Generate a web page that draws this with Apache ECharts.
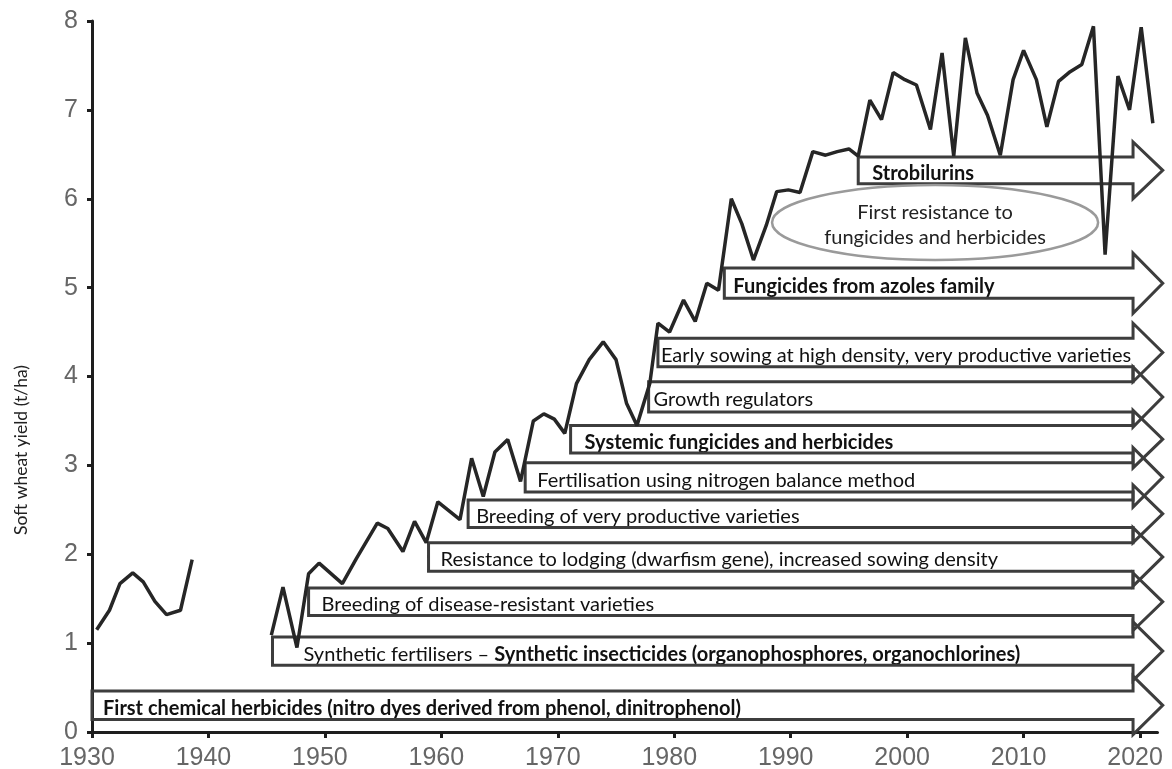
<!DOCTYPE html>
<html><head><meta charset="utf-8">
<script src="https://cdn.jsdelivr.net/npm/echarts@6/dist/echarts.min.js"></script>
<style>html,body{margin:0;padding:0;background:#fff;}#c{width:1172px;height:769px;}</style>
</head><body><div id="c"></div>
<script>
// ---- data ----
const years1930s = [1930.4,1931.5,1932.4,1933.5,1934.4,1935.4,1936.4,1937.6,1938.6];
const yield1930s = [1.15,1.37,1.67,1.79,1.69,1.47,1.32,1.37,1.94];

const yearsPostWar = [1945.4,1946.4,1947.6,1948.6,1949.5,1951.5,1952.7,1954.5,1955.4,1956.7,
  1957.7,1958.7,1959.7,1961.6,1962.6,1963.6,1964.6,1965.7,1966.8,1967.9,
  1968.8,1969.7,1970.6,1971.6,1972.7,1973.9,1975.0,1975.9,1976.8,1977.9,
  1978.6,1979.6,1980.8,1981.8,1982.8,1983.8,1984.9,1985.8,1986.8,1987.9,
  1988.8,1989.8,1990.8,1991.9,1993.0,1994.0,1995.0,1995.8,1996.8,1997.8,
  1998.8,1999.8,2000.8,2002.0,2003.0,2004.0,2005.0,2006.0,2006.9,2008.0,
  2009.1,2010.0,2011.1,2012.0,2013.0,2014.0,2015.0,2016.0,2017.0,2018.1,
  2019.1,2020.1,2021.1];
const yieldPostWar = [1.09,1.63,0.95,1.78,1.90,1.67,1.95,2.35,2.29,2.03,
  2.37,2.13,2.59,2.39,3.08,2.65,3.15,3.29,2.82,3.50,
  3.58,3.52,3.36,3.92,4.19,4.39,4.19,3.70,3.45,3.92,
  4.60,4.50,4.86,4.62,5.05,4.97,6.00,5.72,5.31,5.70,
  6.08,6.10,6.07,6.53,6.49,6.53,6.56,6.48,7.11,6.89,
  7.42,7.34,7.28,6.78,7.64,6.48,7.81,7.19,6.94,6.49,
  7.34,7.67,7.34,6.81,7.32,7.43,7.51,7.94,5.37,7.38,
  7.00,7.93,6.85];

const arrowLabels = [
  '{b|First chemical herbicides (nitro dyes derived from phenol, dinitrophenol)}',
  'Synthetic fertilisers – {b|Synthetic insecticides (organophosphores, organochlorines)}',
  'Breeding of disease-resistant varieties',
  'Resistance to lodging (dwarfism gene), increased sowing density',
  'Breeding of very productive varieties',
  'Fertilisation using nitrogen balance method',
  '{b|Systemic fungicides and herbicides}',
  'Growth regulators',
  'Early sowing at high density, very productive varieties',
  '{b|Fungicides from azoles family}',
  '{b|Strobilurins}'
];
const arrowStartYear = [1930.0,1945.5,1948.6,1958.9,1962.3,1967.2,1971.1,1977.8,1978.6,1984.3,1995.8];
const arrowTop       = [0.46,1.07,1.62,2.13,2.61,3.03,3.45,3.94,4.43,5.22,6.47];
const arrowBottom    = [0.14,0.75,1.31,1.81,2.30,2.70,3.14,3.60,4.11,4.88,6.17];

const noteText = 'First resistance to\nfungicides and herbicides';
const noteBox = [1988.4, 2016.4, 6.155, 5.311]; // x-from, x-to, y-top, y-bottom (data units)

const xTicks = {min:1930, max:2021.5, interval:10};
const yTicks = {min:0, max:8, interval:1};

// ---- layout / style constants ----
const ARROW_END = 2019.4, ARROW_TIP = 2021.95, HEAD_PX = 15;
const labelPad = [11,31,13,12,8,12,14,5,3,9,14];
const TXT_FONT = 'Lato';
const TXT_SIZE = 20;

const chart = echarts.init(document.getElementById('c'));

const arrowData = arrowStartYear.map((s,i)=>[s, arrowTop[i], arrowBottom[i]]);

const option = {
  animation:false,
  backgroundColor:'#fff',
  grid:{left:92, top:21, width:1065.5, height:711, containLabel:false, outerBoundsMode:'none'},
  xAxis:{type:'value', min:xTicks.min, max:xTicks.max, interval:xTicks.interval,
    axisLine:{show:true, lineStyle:{color:'#1e1e1e', width:3}},
    axisTick:{show:true, length:6, lineStyle:{color:'#1e1e1e', width:3}},
    axisLabel:{color:'#666', fontSize:25, fontFamily:'Liberation Sans', margin:14,
      showMaxLabel:false, formatter:v=>'{t|'+v+'}',
      rich:{t:{color:'#666', fontSize:25, fontFamily:'Liberation Sans', padding:[0,10,0,0]}}},
    splitLine:{show:false}},
  yAxis:{type:'value', min:yTicks.min, max:yTicks.max, interval:yTicks.interval,
    axisLine:{show:true, lineStyle:{color:'#1e1e1e', width:3}},
    axisTick:{show:true, length:5, lineStyle:{color:'#1e1e1e', width:3}},
    axisLabel:{color:'#666', fontSize:25, fontFamily:'Liberation Sans', margin:14},
    splitLine:{show:false}},
  graphic:[{type:'text', left:12, top:365, rotation:Math.PI/2,
    style:{text:'Soft wheat yield (t/ha)', fill:'#222', font:'17.5px Lato'}}],
  series:[
    { // innovation labels
      type:'custom', z:2, data:arrowData, silent:true,
      renderItem(params, api){
        const i = params.dataIndex;
        const pt = api.coord([api.value(0), api.value(1)]);
        const pb = api.coord([api.value(0), api.value(2)]);
        return {type:'text', x:pt[0]+labelPad[i], y:(pt[1]+pb[1])/2+3,
          style:{text:arrowLabels[i], fill:'#111', fontFamily:TXT_FONT, fontSize:TXT_SIZE,
            verticalAlign:'middle', align:'left',
            rich:{b:{fontWeight:'bold', fontFamily:TXT_FONT, fontSize:TXT_SIZE, fill:'#111'}}}};
      }
    },
    { // arrows
      type:'custom', z:3, data:arrowData, silent:true, clip:false,
      renderItem(params, api){
        const pt = api.coord([api.value(0), api.value(1)]);
        const pb = api.coord([api.value(0), api.value(2)]);
        const xe = api.coord([ARROW_END, 0])[0];
        const xt = api.coord([ARROW_TIP, 0])[0];
        const yt = pt[1], yb = pb[1], ym = (yt+yb)/2;
        const pts = [[pt[0],yt],[xe,yt],[xe,yt-HEAD_PX],[xt,ym],[xe,yb+HEAD_PX],[xe,yb],[pt[0],yb]];
        return {type:'polygon', shape:{points:pts},
          style:{fill:'none', stroke:'#3d3d3d', lineWidth:3, lineJoin:'miter'}};
      }
    },
    { // note ellipse
      type:'custom', z:4, data:[noteBox], silent:true, clip:false,
      renderItem(params, api){
        const a = api.coord([api.value(0), api.value(2)]);
        const b = api.coord([api.value(1), api.value(3)]);
        const cx=(a[0]+b[0])/2, cy=(a[1]+b[1])/2;
        return {type:'group', children:[
          {type:'ellipse', shape:{cx, cy, rx:(b[0]-a[0])/2, ry:(b[1]-a[1])/2},
            style:{fill:'#fff', stroke:'#9a9a9a', lineWidth:2.5}},
          {type:'text', x:cx, y:cy+3, style:{text:noteText, fill:'#222', fontFamily:TXT_FONT,
            fontSize:TXT_SIZE, lineHeight:25, align:'center', verticalAlign:'middle'}}
        ]};
      }
    },
    {type:'line', z:5, data:years1930s.map((y,i)=>[y, yield1930s[i]]), showSymbol:false, symbol:'none',
      lineStyle:{color:'#262626', width:3.5}, silent:true},
    {type:'line', z:5, data:yearsPostWar.map((y,i)=>[y, yieldPostWar[i]]), showSymbol:false, symbol:'none',
      lineStyle:{color:'#262626', width:3.5}, silent:true}
  ]
};
chart.setOption(option);
</script></body></html>
